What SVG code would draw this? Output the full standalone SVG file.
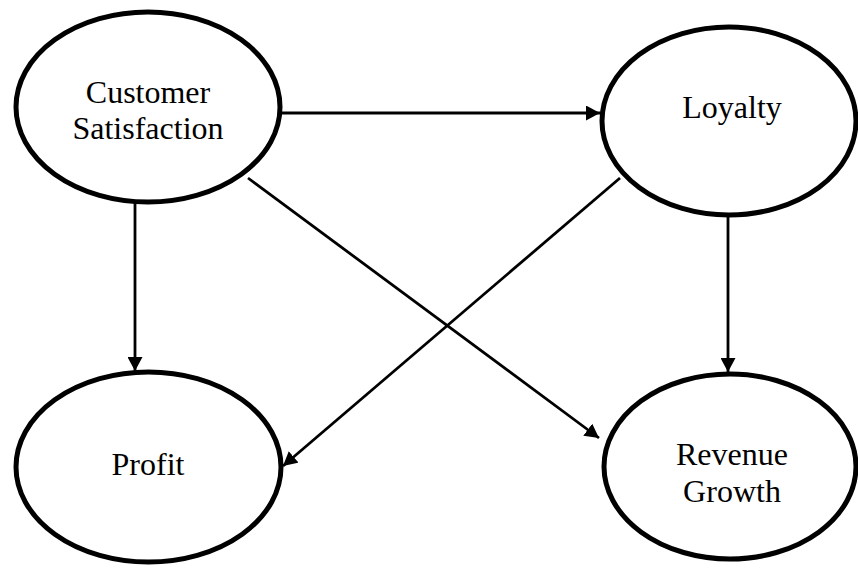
<svg xmlns="http://www.w3.org/2000/svg" width="858" height="568" viewBox="0 0 858 568">
<style>
.node ellipse{fill:#fff;stroke:#000;stroke-width:5}
.node text{font-family:"Liberation Serif","Times New Roman",serif;font-size:32px;fill:#000;text-anchor:middle}
.edge{stroke:#000;stroke-width:2.8;fill:none;marker-end:url(#ah)}
</style>
<defs>
<marker id="ah" markerUnits="userSpaceOnUse" markerWidth="14" markerHeight="15" refX="14" refY="7.5" orient="auto">
<path d="M0,0 L14,7.5 L0,15 Z" fill="#000"/>
</marker>
</defs>
<g id="connectors">
<path class="edge" d="M282,113 L600,113"/>
<path class="edge" d="M135,203 L135,371"/>
<path class="edge" d="M728,217 L728,372"/>
<path class="edge" d="M248,178 L599,438"/>
<path class="edge" d="M620,178 L283,466"/>
</g>
<g id="customer-satisfaction" class="node">
<ellipse cx="148" cy="107" rx="132" ry="95"/>
<text x="148" y="103">Customer</text>
<text x="148" y="139">Satisfaction</text>
</g>
<g id="loyalty" class="node">
<ellipse cx="729" cy="121" rx="127" ry="94"/>
<text x="732" y="118">Loyalty</text>
</g>
<g id="profit" class="node">
<ellipse cx="148.5" cy="467" rx="132.5" ry="95"/>
<text x="148" y="475">Profit</text>
</g>
<g id="revenue-growth" class="node">
<ellipse cx="730" cy="466.5" rx="126" ry="92.5"/>
<text x="732" y="465">Revenue</text>
<text x="732" y="502">Growth</text>
</g>
</svg>
